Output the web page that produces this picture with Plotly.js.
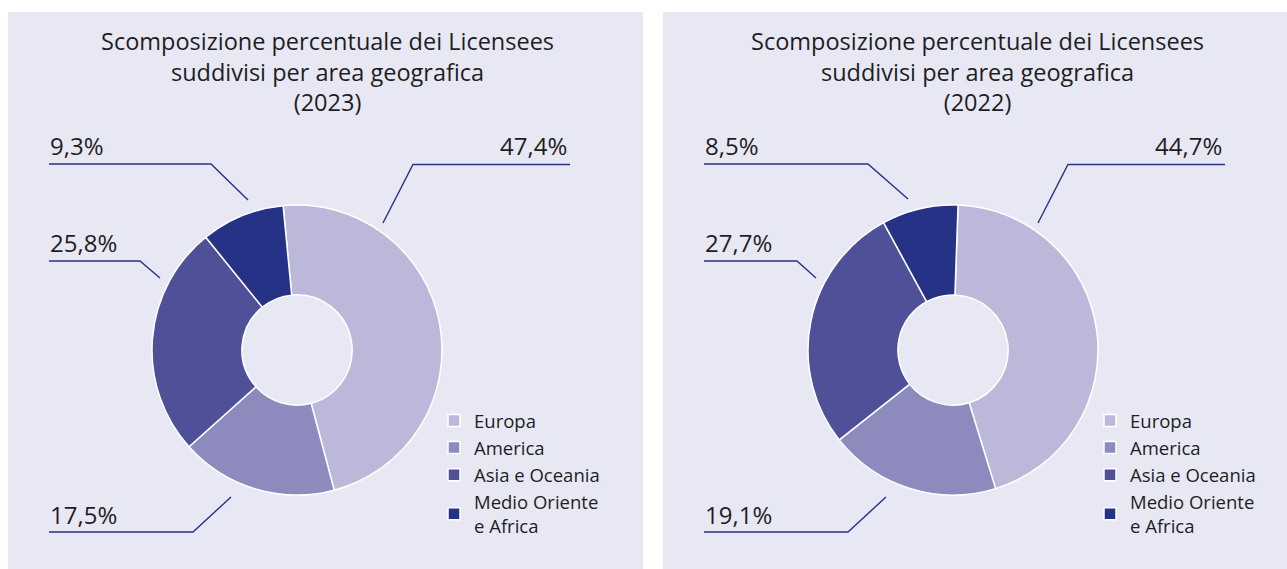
<!DOCTYPE html>
<html>
<head>
<meta charset="utf-8">
<script src="https://cdn.plot.ly/plotly-3.0.1.min.js"></script>
<style>
html,body{margin:0;padding:0;background:#ffffff;}
#chart{width:1287px;height:569px;}
</style>
</head>
<body>
<div id="chart"></div>
<script>
// ---- data ----
const categories = ["Europa", "America", "Asia e Oceania", "Medio Oriente<br>e Africa"];
const values2023 = [47.4, 17.5, 25.8, 9.3];
const values2022 = [44.7, 19.1, 27.7, 8.5];
const titles = [
  "Scomposizione percentuale dei Licensees<br>suddivisi per area geografica<br>(2023)",
  "Scomposizione percentuale dei Licensees<br>suddivisi per area geografica<br>(2022)"
];
const sliceColors = ["#bbb8da", "#8d8abe", "#4e5098", "#253285"];

// ---- layout helpers ----
const W = 1287, H = 569;
const px = x => x / W;
const py = y => 1 - y / H;
const FONT = "'Open Sans', 'Noto Sans', sans-serif";
const TXT = "#1e1e1e";
const LINE = "#253285";
const BG = "#e8e8f4";
const fmt = v => v.toFixed(1).replace('.', ',') + '%';

const panels = [
  {x0: 8, x1: 643, cx: 297, rot: -5.5, vals: values2023, title: titles[0], legend: 'legend', suffix: '',
   labels: [
     {i: 0, tx: 569, ty: 145, anchor: 'right', pts: [[570,164.5],[413,164.5],[383,223]]},
     {i: 1, tx: 48, ty: 514, anchor: 'left', pts: [[49,532],[193,532],[231,497]]},
     {i: 2, tx: 48, ty: 242, anchor: 'left', pts: [[49,261],[140,261],[160,278]]},
     {i: 3, tx: 48, ty: 145, anchor: 'left', pts: [[49,164],[211,164],[248,200]]}
   ]},
  {x0: 663, x1: 1287, cx: 953, rot: 2, vals: values2022, title: titles[1], legend: 'legend2', suffix: '\u200b',
   labels: [
     {i: 0, tx: 1224, ty: 145, anchor: 'right', pts: [[1225,164.5],[1068,164.5],[1038,223]]},
     {i: 1, tx: 703, ty: 514, anchor: 'left', pts: [[704,532],[848,532],[886,497]]},
     {i: 2, tx: 703, ty: 242, anchor: 'left', pts: [[704,261],[797,261],[816,278]]},
     {i: 3, tx: 703, ty: 145, anchor: 'left', pts: [[704,164],[868,164],[908,199]]}
   ]}
];

const R = 145, CY = 350;
const traces = [];
const shapes = [];
const annotations = [];
const layoutLegends = {};

panels.forEach((p, k) => {
  shapes.push({type: 'rect', xref: 'paper', yref: 'paper', layer: 'below',
    x0: px(p.x0), x1: px(p.x1), y0: py(12), y1: py(H + 2),
    fillcolor: BG, line: {width: 0}});
  traces.push({
    type: 'pie',
    name: p.title.split('<br>').pop(),
    labels: categories.map(c => c + p.suffix),
    values: p.vals,
    hole: 0.38,
    sort: false,
    direction: 'clockwise',
    rotation: p.rot,
    textinfo: 'none',
    hoverinfo: 'label+percent',
    marker: {colors: sliceColors, line: {color: '#ffffff', width: 1.5}},
    domain: {x: [px(p.cx - R), px(p.cx + R)], y: [py(CY + R), py(CY - R)]},
    legend: p.legend,
    showlegend: true
  });
  annotations.push({xref: 'paper', yref: 'paper', x: px((p.x0 + p.x1) / 2 + 2), y: py(72),
    xanchor: 'center', yanchor: 'middle', text: p.title, showarrow: false,
    font: {family: FONT, size: 23.5, color: TXT}});
  p.labels.forEach(l => {
    annotations.push({xref: 'paper', yref: 'paper', x: px(l.tx), y: py(l.ty),
      xanchor: l.anchor, yanchor: 'middle', text: fmt(p.vals[l.i]), showarrow: false,
      font: {family: FONT, size: 24, color: TXT}});
    const d = l.pts.map((pt, j) => (j ? 'L' : 'M') + px(pt[0]) + ',' + py(pt[1])).join(' ');
    shapes.push({type: 'path', xref: 'paper', yref: 'paper', path: d,
      line: {color: LINE, width: 1.4}});
  });
  layoutLegends[p.legend] = {
    x: px(p.cx + 137), y: py(402), xanchor: 'left', yanchor: 'top',
    bgcolor: 'rgba(0,0,0,0)', borderwidth: 0, traceorder: 'normal',
    font: {family: FONT, size: 18.5, color: TXT}, itemclick: false, itemdoubleclick: false
  };
});

const layout = Object.assign({
  width: W, height: H,
  margin: {l: 0, r: 0, t: 0, b: 0},
  paper_bgcolor: '#ffffff',
  plot_bgcolor: '#ffffff',
  shapes: shapes,
  annotations: annotations
}, layoutLegends);

Plotly.newPlot('chart', traces, layout, {displayModeBar: false, responsive: false});
</script>
</body>
</html>
